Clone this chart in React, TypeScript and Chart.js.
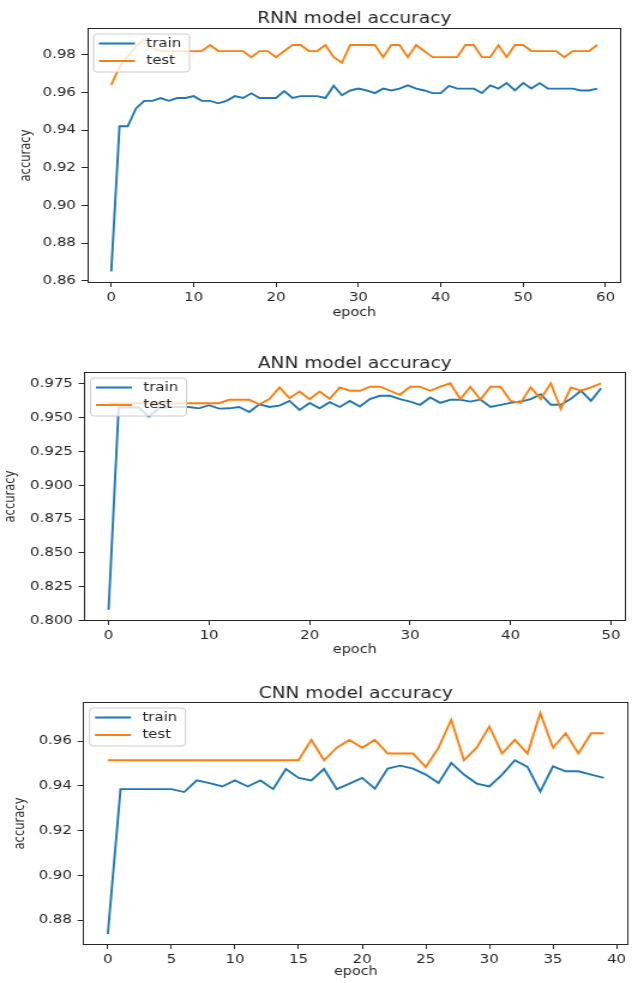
import React, { useEffect, useRef } from "react";
import { Chart, registerables } from "chart.js";

Chart.register(...registerables);

// ---------------- data ----------------
const rnnTrain = [
  0.865, 0.942, 0.942, 0.9515, 0.9555, 0.9555, 0.957, 0.9555, 0.957, 0.957,
  0.958, 0.9555, 0.9555, 0.9542, 0.9555, 0.958, 0.957, 0.9595, 0.957, 0.957,
  0.957, 0.9607, 0.957, 0.958, 0.958, 0.958, 0.957, 0.9635, 0.9585, 0.961,
  0.962, 0.961, 0.9596, 0.962, 0.961, 0.962, 0.9637, 0.962, 0.961, 0.9596,
  0.9596, 0.9635, 0.962, 0.962, 0.962, 0.9596, 0.9637, 0.962, 0.9649, 0.961,
  0.9649, 0.962, 0.9649, 0.962, 0.962, 0.962, 0.962, 0.961, 0.961, 0.962,
];
const rnnTest = [
  0.964, 0.9735, 0.979, 0.9845, 0.988, 0.9835, 0.9819, 0.9819, 0.9819, 0.9819,
  0.9819, 0.9819, 0.9851, 0.9819, 0.9819, 0.9819, 0.9819, 0.9787, 0.9819, 0.9819,
  0.9787, 0.9819, 0.9851, 0.9851, 0.9819, 0.9819, 0.9851, 0.9787, 0.9757, 0.9851,
  0.9851, 0.9851, 0.9851, 0.9787, 0.9851, 0.9851, 0.9787, 0.9851, 0.9819, 0.9787,
  0.9787, 0.9787, 0.9787, 0.9851, 0.9851, 0.9787, 0.9787, 0.9851, 0.9787, 0.9851,
  0.9851, 0.9819, 0.9819, 0.9819, 0.9819, 0.9787, 0.9819, 0.9819, 0.9819, 0.9851,
];

const annTrain = [
  0.808, 0.9576, 0.9576, 0.9576, 0.9508, 0.957, 0.958, 0.958, 0.958, 0.957,
  0.9593, 0.9568, 0.957, 0.958, 0.9543, 0.96, 0.958, 0.959, 0.9625, 0.9558,
  0.961, 0.957, 0.9615, 0.958, 0.9625, 0.9583, 0.9638, 0.9663, 0.9663, 0.9638,
  0.962, 0.9596, 0.965, 0.961, 0.9633, 0.9633, 0.962, 0.9635, 0.958, 0.9596,
  0.961, 0.962, 0.9638, 0.9675, 0.9596, 0.9596, 0.964, 0.97, 0.9625, 0.9718,
];
const annTest = [
  0.9608, 0.9608, 0.9608, 0.9608, 0.9608, 0.9608, 0.9608, 0.9608, 0.9608, 0.9608,
  0.9608, 0.9608, 0.9633, 0.9633, 0.9633, 0.96, 0.9638, 0.9725, 0.9645, 0.9695,
  0.9638, 0.9695, 0.964, 0.9725, 0.97, 0.97, 0.973, 0.973, 0.97, 0.967,
  0.973, 0.973, 0.97, 0.973, 0.9755, 0.9638, 0.973, 0.9633, 0.973, 0.973,
  0.9625, 0.961, 0.9725, 0.964, 0.9755, 0.9565, 0.9725, 0.97, 0.9725, 0.9755,
];

const cnnTrain = [
  0.8738, 0.9385, 0.9385, 0.9385, 0.9385, 0.9385, 0.9372, 0.9424, 0.9412, 0.9397,
  0.9424, 0.9397, 0.9424, 0.9385, 0.9475, 0.9435, 0.9424, 0.9475, 0.9385, 0.941,
  0.9435, 0.9387, 0.9477, 0.949, 0.9477, 0.945, 0.9412, 0.9502, 0.945, 0.941,
  0.9397, 0.945, 0.9514, 0.9484, 0.9374, 0.9487, 0.9465, 0.9465, 0.945, 0.9435,
];
const cnnTest = [
  0.9514, 0.9514, 0.9514, 0.9514, 0.9514, 0.9514, 0.9514, 0.9514, 0.9514, 0.9514,
  0.9514, 0.9514, 0.9514, 0.9514, 0.9514, 0.9514, 0.9605, 0.9514, 0.957, 0.9605,
  0.957, 0.9605, 0.9544, 0.9544, 0.9544, 0.9484, 0.957, 0.9695, 0.9514, 0.957,
  0.9665, 0.9544, 0.9605, 0.9544, 0.9725, 0.957, 0.9635, 0.9544, 0.9635, 0.9635,
];

const seriesLabels = ["train", "test"];
const titles = ["RNN model accuracy", "ANN model accuracy", "CNN model accuracy"];
const xLabel = "epoch";
const yLabel = "accuracy";

// ---------------- styling ----------------
const FONT = "'DejaVu Sans', 'Liberation Sans', sans-serif";
const TEXT = "#262626";
const BLUE = "#1f77b4";
const ORANGE = "#ff7f0e";
const CW = 527; // canvas width before horizontal stretch
const SX = 632 / CW;

Chart.defaults.font.family = FONT;
Chart.defaults.color = TEXT;

const framePlugin = {
  id: "mplFrame",
  afterDatasetsDraw(chart: any) {
    const { ctx, chartArea: a } = chart;
    ctx.save();
    ctx.strokeStyle = TEXT;
    ctx.lineWidth = 1;
    const l = Math.round(a.left) + 0.5;
    const t = Math.round(a.top) + 0.5;
    const r = Math.round(a.right) - 0.5;
    const b = Math.round(a.bottom) - 0.5;
    ctx.strokeRect(l, t, r - l, b - t);
    ctx.restore();
  },
};

const legendPlugin = {
  id: "mplLegend",
  afterDatasetsDraw(chart: any) {
    const { ctx, chartArea: a } = chart;
    const x0 = a.left + 5.5;
    const y0 = a.top + 6;
    const w = 80;
    const h = 38;
    const rad = 3;
    ctx.save();
    ctx.beginPath();
    ctx.moveTo(x0 + rad, y0);
    ctx.lineTo(x0 + w - rad, y0);
    ctx.quadraticCurveTo(x0 + w, y0, x0 + w, y0 + rad);
    ctx.lineTo(x0 + w, y0 + h - rad);
    ctx.quadraticCurveTo(x0 + w, y0 + h, x0 + w - rad, y0 + h);
    ctx.lineTo(x0 + rad, y0 + h);
    ctx.quadraticCurveTo(x0, y0 + h, x0, y0 + h - rad);
    ctx.lineTo(x0, y0 + rad);
    ctx.quadraticCurveTo(x0, y0, x0 + rad, y0);
    ctx.closePath();
    ctx.fillStyle = "rgba(255,255,255,0.8)";
    ctx.fill();
    ctx.strokeStyle = "#cccccc";
    ctx.lineWidth = 1;
    ctx.stroke();
    const ds = [...chart.data.datasets].sort((p: any, q: any) => p.legendIndex - q.legendIndex);
    ds.forEach((d: any, i: number) => {
      const y = y0 + 9.5 + i * 17.5;
      ctx.beginPath();
      ctx.strokeStyle = d.borderColor;
      ctx.lineWidth = 2;
      ctx.moveTo(x0 + 4.5, y);
      ctx.lineTo(x0 + 34.5, y);
      ctx.stroke();
      ctx.fillStyle = TEXT;
      ctx.font = `12.5px ${FONT}`;
      ctx.textBaseline = "middle";
      ctx.textAlign = "left";
      ctx.fillText(d.label, x0 + 44, y);
    });
    ctx.restore();
  },
};

type Spec = {
  title: string;
  train: number[];
  test: number[];
  yStep: number;
  yDec: number;
  xStep: number;
  top: number;
  height: number;
  yAxisWidth: number;
  xAxisHeight: number;
  padRight: number;
  titlePadTop: number;
  titlePadBottom: number;
  xTitlePadBottom: number;
  yTitlePadTop: number;
};

const specs: Spec[] = [
  {
    title: titles[0], train: rnnTrain, test: rnnTest, yStep: 0.02, yDec: 2, xStep: 10,
    top: 0, height: 330, yAxisWidth: 72.5, xAxisHeight: 47, padRight: 8.7,
    titlePadTop: 10.75, titlePadBottom: 1.75, xTitlePadBottom: 9.8, yTitlePadTop: 14.8,
  },
  {
    title: titles[1], train: annTrain, test: annTest, yStep: 0.025, yDec: 3, xStep: 10,
    top: 330, height: 330, yAxisWidth: 70, xAxisHeight: 39, padRight: 5.3,
    titlePadTop: 26.25, titlePadBottom: 0.25, xTitlePadBottom: 2.8, yTitlePadTop: 2.3,
  },
  {
    title: titles[2], train: cnnTrain, test: cnnTest, yStep: 0.02, yDec: 2, xStep: 5,
    top: 660, height: 323, yAxisWidth: 69.2, xAxisHeight: 38, padRight: 2.8,
    titlePadTop: 26.25, titlePadBottom: 0.25, xTitlePadBottom: 3.8, yTitlePadTop: 9.8,
  },
];

function AccuracyChart({ spec }: { spec: Spec }) {
  const ref = useRef<HTMLCanvasElement | null>(null);
  useEffect(() => {
    if (!ref.current) return;
    const all = [...spec.train, ...spec.test];
    const lo = Math.min(...all);
    const hi = Math.max(...all);
    const ym = (hi - lo) * 0.05;
    const n = spec.train.length - 1;
    const xm = n * 0.05;
    const toPts = (arr: number[]) => arr.map((v, i) => ({ x: i, y: v }));
    const chart = new Chart(ref.current, {
      type: "line",
      data: {
        datasets: [
          {
            label: seriesLabels[0], data: toPts(spec.train), borderColor: BLUE,
            backgroundColor: BLUE, borderWidth: 1.9, pointRadius: 0, tension: 0,
            order: 2, legendIndex: 0,
          } as any,
          {
            label: seriesLabels[1], data: toPts(spec.test), borderColor: ORANGE,
            backgroundColor: ORANGE, borderWidth: 1.9, pointRadius: 0, tension: 0,
            order: 1, legendIndex: 1,
          } as any,
        ],
      },
      options: {
        responsive: false,
        animation: false,
        devicePixelRatio: 1,
        events: [],
        layout: { padding: { left: 0, right: spec.padRight, top: 0, bottom: 0 } },
        plugins: {
          legend: { display: false },
          tooltip: { enabled: false },
          title: {
            display: true,
            text: spec.title,
            fullSize: false,
            color: TEXT,
            font: { size: 15.5, weight: "normal", lineHeight: 1 },
            padding: { top: spec.titlePadTop, bottom: spec.titlePadBottom },
          },
        },
        scales: {
          x: {
            type: "linear",
            min: -xm,
            max: n + xm,
            afterFit: (s: any) => { s.height = spec.xAxisHeight; },
            ticks: {
              stepSize: spec.xStep,
              includeBounds: false,
              autoSkip: false,
              maxRotation: 0,
              padding: 3,
              color: TEXT,
              font: { size: 12.5 },
              callback: (v: any) => String(Math.round(Number(v))),
            },
            grid: {
              drawOnChartArea: false,
              drawTicks: true,
              tickLength: 4,
              tickColor: TEXT,
              color: TEXT,
            },
            border: { display: false },
            title: {
              display: true,
              text: xLabel,
              color: TEXT,
              font: { size: 12 },
              padding: { top: 0, bottom: spec.xTitlePadBottom },
            },
          },
          y: {
            type: "linear",
            min: lo - ym,
            max: hi + ym,
            afterFit: (s: any) => { s.width = spec.yAxisWidth; },
            ticks: {
              stepSize: spec.yStep,
              includeBounds: false,
              autoSkip: false,
              padding: 4.7,
              color: TEXT,
              font: { size: 12.5 },
              callback: (v: any) => Number(v).toFixed(spec.yDec),
            },
            grid: {
              drawOnChartArea: false,
              drawTicks: true,
              tickLength: 4.5,
              tickColor: TEXT,
              color: TEXT,
            },
            border: { display: false },
            title: {
              display: true,
              text: yLabel,
              color: TEXT,
              font: { size: 11.5 },
              padding: { top: spec.yTitlePadTop, bottom: 0 },
            },
          },
        },
      } as any,
      plugins: [framePlugin, legendPlugin],
    });
    return () => chart.destroy();
  }, [spec]);

  return (
    <canvas
      ref={ref}
      width={CW}
      height={spec.height}
      style={{
        position: "absolute",
        left: 0,
        top: spec.top,
        width: CW,
        height: spec.height,
        transform: `scaleX(${SX})`,
        transformOrigin: "0 0",
      }}
    />
  );
}

export default function App() {
  return (
    <div
      style={{
        position: "absolute",
        left: 0,
        top: 0,
        width: 632,
        height: 983,
        background: "#ffffff",
        overflow: "hidden",
      }}
    >
      {specs.map((s) => (
        <AccuracyChart key={s.title} spec={s} />
      ))}
    </div>
  );
}
